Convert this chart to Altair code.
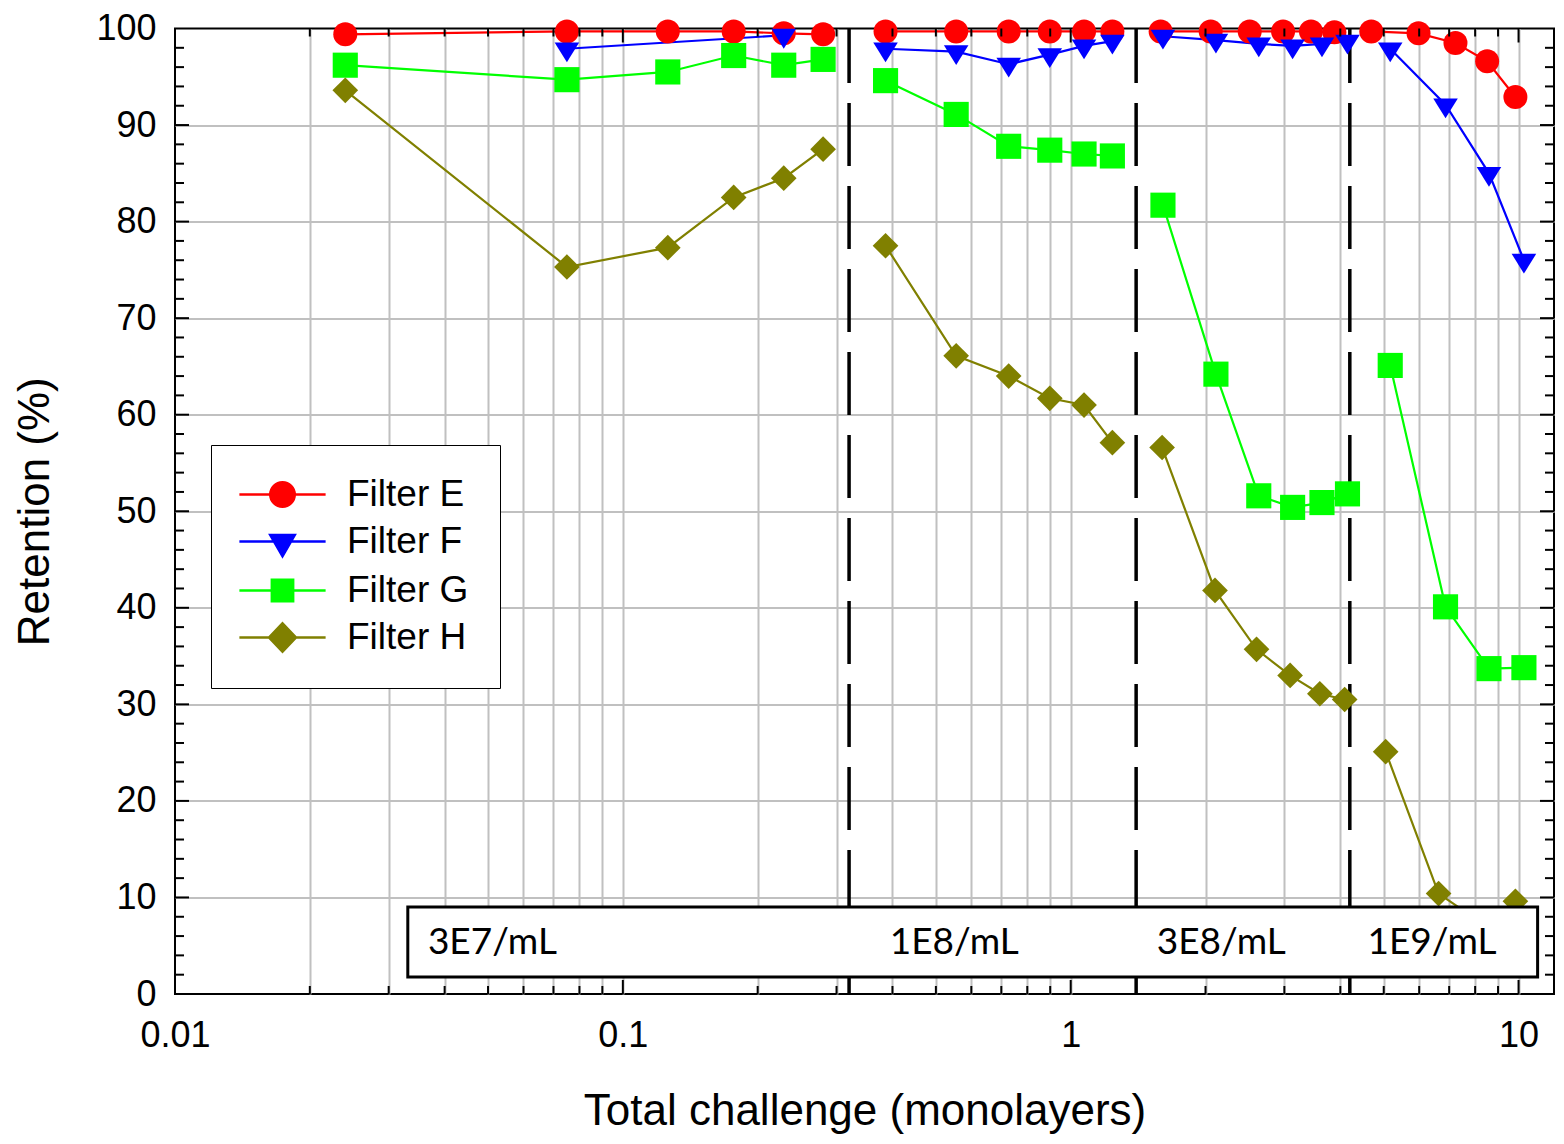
import altair as alt
import pandas as pd

# ---------------- data ----------------
series_names = ["Filter E", "Filter F", "Filter G", "Filter H"]
series_colors = ["#ff0000", "#0000ff", "#00ff00", "#808000"]

e_x = [0.0240, 0.0750, 0.126, 0.1768, 0.2287, 0.280,
       0.386, 0.555, 0.727, 0.898, 1.071, 1.239,
       1.588, 2.054, 2.51, 2.98, 3.44, 3.88,
       4.69, 5.98, 7.23, 8.51, 9.84]
e_y = [99.4, 99.7, 99.7, 99.7, 99.5, 99.4,
       99.7, 99.7, 99.7, 99.7, 99.7, 99.7,
       99.7, 99.7, 99.7, 99.7, 99.7, 99.6,
       99.7, 99.5, 98.5, 96.6, 92.9]

f_x = [0.0750, 0.2287,
       0.386, 0.555, 0.727, 0.898, 1.071, 1.239,
       1.607, 2.11, 2.63, 3.13, 3.64, 4.15,
       5.17, 6.87, 8.59, 10.28]
f_y = [97.9, 99.3,
       97.9, 97.6, 96.3, 97.3, 98.2, 98.7,
       99.2, 98.8, 98.4, 98.2, 98.4, 98.7,
       97.9, 92.1, 85.0, 76.0]

g_x = [0.0240, 0.0750, 0.126, 0.1768, 0.2287, 0.280,
       0.386, 0.555, 0.727, 0.898, 1.071, 1.239,
       1.607, 2.11, 2.63, 3.13, 3.64, 4.15,
       5.17, 6.87, 8.59, 10.28]
g_y = [96.2, 94.7, 95.5, 97.2, 96.2, 96.8,
       94.6, 91.1, 87.8, 87.4, 87.0, 86.8,
       81.7, 64.2, 51.6, 50.4, 50.9, 51.8,
       65.1, 40.1, 33.7, 33.8]

h_x = [0.0240, 0.0750, 0.126, 0.1768, 0.2287, 0.280,
       0.386, 0.555, 0.727, 0.898, 1.071, 1.239,
       1.60, 2.10, 2.60, 3.09, 3.60, 4.09,
       5.05, 6.63, 8.3, 9.84]
h_y = [93.6, 75.3, 77.3, 82.5, 84.5, 87.5,
       77.5, 66.1, 64.0, 61.7, 61.0, 57.1,
       56.6, 41.8, 35.7, 33.0, 31.1, 30.5,
       25.1, 10.4, 7.3, 9.6]

# concentration regions
divider_x = [0.32, 1.4, 4.2]
conc_labels = ["3E7/mL", "1E8/mL", "3E8/mL", "1E9/mL"]
conc_label_x = [0.0367, 0.3945, 1.556, 4.60]
conc_label_y = [5.3, 5.3, 5.3, 5.3]
box_x, box_x2, box_y, box_y2 = [0.0331], [11.03], [9.0], [1.76]

# axis values
x_major = [0.01, 0.1, 1, 10]
x_minor = [m * d for d in (0.01, 0.1, 1) for m in range(2, 10)]
y_major = list(range(0, 101, 10))
y_minor = [v for v in range(0, 101, 2) if v % 10]

# ---------------- tables ----------------
rows = []
for name, xs, ys in zip(series_names, [e_x, f_x, g_x, h_x], [e_y, f_y, g_y, h_y]):
    for i, (a, b) in enumerate(zip(xs, ys)):
        seg = sum(1 for d in divider_x if a > d)   # concentration segment
        rows.append({"series": name, "x": a, "y": b, "order": i, "seg": seg})
df = pd.DataFrame(rows)

div_df = pd.DataFrame({"x": divider_x})
lab_df = pd.DataFrame({"x": conc_label_x, "y": conc_label_y, "label": conc_labels})
box_df = pd.DataFrame({"x": box_x, "x2": box_x2, "y": box_y, "y2": box_y2})
legend_df = pd.DataFrame({"series": series_names})

FONT = "Liberation Sans"
xscale = alt.Scale(type="log", domain=[0.01, 12], nice=False)
yscale = alt.Scale(domain=[0, 100], nice=False, zero=False)

x_axis = alt.Axis(
    values=sorted(x_major + x_minor),
    labelExpr="abs(log(datum.value)/LN10 - round(log(datum.value)/LN10)) < 1e-6 ? format(datum.value, '~g') : ''",
    grid=True, gridColor="#c0c0c0", gridWidth=2,
    gridOpacity={"condition": {"test": "datum.value < 0.0101", "value": 0}, "value": 1},
    ticks=False, domain=False,
    labelFont=FONT, labelFontSize=36, labelColor="black", labelPadding=24,
    labelOverlap=False, labelFlush=False,
    title="Total challenge (monolayers)", titleFont=FONT, titleFontSize=44,
    titleFontWeight="normal", titleColor="black", titlePadding=36,
)
y_axis = alt.Axis(
    values=y_major,
    grid=True, gridColor="#c0c0c0", gridWidth=2,
    gridOpacity={"condition": {"test": "datum.value == 0 || datum.value == 100", "value": 0}, "value": 1},
    ticks=False, domain=False,
    labelFont=FONT, labelFontSize=36, labelColor="black", labelPadding=19,
    labelOverlap=False, labelFlush=False,
    title="Retention (%)", titleFont=FONT, titleFontSize=44,
    titleFontWeight="normal", titleColor="black", titlePadding=38,
)

color_scale = alt.Scale(domain=series_names, range=series_colors)

# dashed dividers
dividers = alt.Chart(div_df).mark_rule(
    color="black", strokeWidth=3.5, strokeDash=[63, 20], strokeDashOffset=8.5
).encode(
    x=alt.X("x:Q", scale=xscale, axis=x_axis),
    y=alt.YDatum(100, scale=yscale, axis=y_axis),
    y2=alt.Y2Datum(0),
)

lines = alt.Chart(df).mark_line(strokeWidth=2.2).encode(
    x=alt.X("x:Q", scale=xscale),
    y=alt.Y("y:Q", scale=yscale),
    color=alt.Color("series:N", scale=color_scale, legend=None),
    detail="seg:N",
    order=alt.Order("order:Q"),
)

tri_down = "M-1,-0.52L1,-0.52L0,1.09Z"
points = alt.Chart(df).mark_point(filled=True, opacity=1).encode(
    x=alt.X("x:Q", scale=xscale),
    y=alt.Y("y:Q", scale=yscale),
    color=alt.Color("series:N", scale=color_scale, legend=None),
    shape=alt.Shape("series:N", scale=alt.Scale(domain=series_names,
                    range=["circle", tri_down, "square", "diamond"]), legend=None),
    size=alt.Size("series:N", scale=alt.Scale(domain=series_names,
                  range=[576, 660, 470, 784]), legend=None),
)

box = alt.Chart(box_df).mark_rect(fill="white", stroke="black", strokeWidth=3).encode(
    x=alt.X("x:Q", scale=xscale), x2="x2:Q",
    y=alt.Y("y:Q", scale=yscale), y2="y2:Q",
)

box_text = alt.Chart(lab_df).mark_text(
    align="left", baseline="middle", font="Lato", fontSize=37, color="black"
).encode(
    x=alt.X("x:Q", scale=xscale),
    y=alt.Y("y:Q", scale=yscale),
    text="label:N",
)


def xticks(vals, size, top):
    d = pd.DataFrame({"x": vals})
    return alt.Chart(d).mark_tick(
        orient="vertical", size=size, thickness=2, color="black", opacity=1,
        yOffset=(size / 2 if top else -size / 2),
    ).encode(
        x=alt.X("x:Q", scale=xscale),
        y=alt.YDatum(100 if top else 0, scale=yscale),
    )


def yticks(vals, size, right):
    d = pd.DataFrame({"y": vals})
    return alt.Chart(d).mark_tick(
        orient="horizontal", size=size, thickness=2, color="black", opacity=1,
        xOffset=(-size / 2 if right else size / 2),
    ).encode(
        y=alt.Y("y:Q", scale=yscale),
        x=alt.XDatum(12 if right else 0.01, scale=xscale),
    )


tick_layers = [
    xticks([v for v in x_major if v > 0.011], 14, False),
    xticks([v for v in x_major if v > 0.011], 14, True),
    xticks(x_minor, 8, False),
    xticks(x_minor, 8, True),
    yticks(y_major[1:-1], 14, False),
    yticks(y_major[1:-1], 14, True),
    yticks(y_minor, 9, False),
    yticks(y_minor, 9, True),
]

# legend-only layer: symbol paths draw the line through the marker
legend_paths = [
    "M-3.52,0H3.52M-1,0A1,1 0 1,1 1,0A1,1 0 1,1 -1,0Z",
    "M-3.52,0H3.52M-1,-0.53L1,-0.53L0,1.2Z",
    "M-3.52,0H3.52M-0.87,-0.87H0.87V0.87H-0.87Z",
    "M-3.52,0H3.52M0,-1.15L1.1,0L0,1.15L-1.1,0Z",
]
leg = alt.Legend(
    orient="none", legendX=36, legendY=416.5, title=None,
    labelFont=FONT, labelFontSize=37, labelColor="black", labelLimit=0,
    symbolSize=600, symbolStrokeWidth=2.5, symbolOpacity=1,
    symbolOffset=22, labelOffset=46, padding=31, rowPadding=9,
    strokeColor="black", fillColor="white",
)
legend_layer = alt.Chart(legend_df).mark_point(
    filled=True, opacity=1, clip=True, strokeWidth=2.5
).encode(
    x=alt.value(-300), y=alt.value(-300),
    color=alt.Color("series:N", scale=alt.Scale(domain=series_names, range=series_colors), legend=leg),
    stroke=alt.Stroke("series:N", scale=alt.Scale(domain=series_names, range=series_colors), legend=leg),
    shape=alt.Shape("series:N", scale=alt.Scale(domain=series_names, range=legend_paths), legend=leg),
)

chart = alt.layer(
    dividers, lines, points, box, box_text, *tick_layers, legend_layer
).resolve_scale(
    color="independent", shape="independent", stroke="independent", size="independent"
).properties(
    width=1379, height=965.5,
    autosize=alt.AutoSizeParams(type="none"),
    padding={"left": 167, "top": 20.5, "right": 2, "bottom": 142},
).configure_view(
    stroke="black", strokeWidth=2
)

chart.save("out.html", embed_options={"renderer": "svg", "actions": False})
